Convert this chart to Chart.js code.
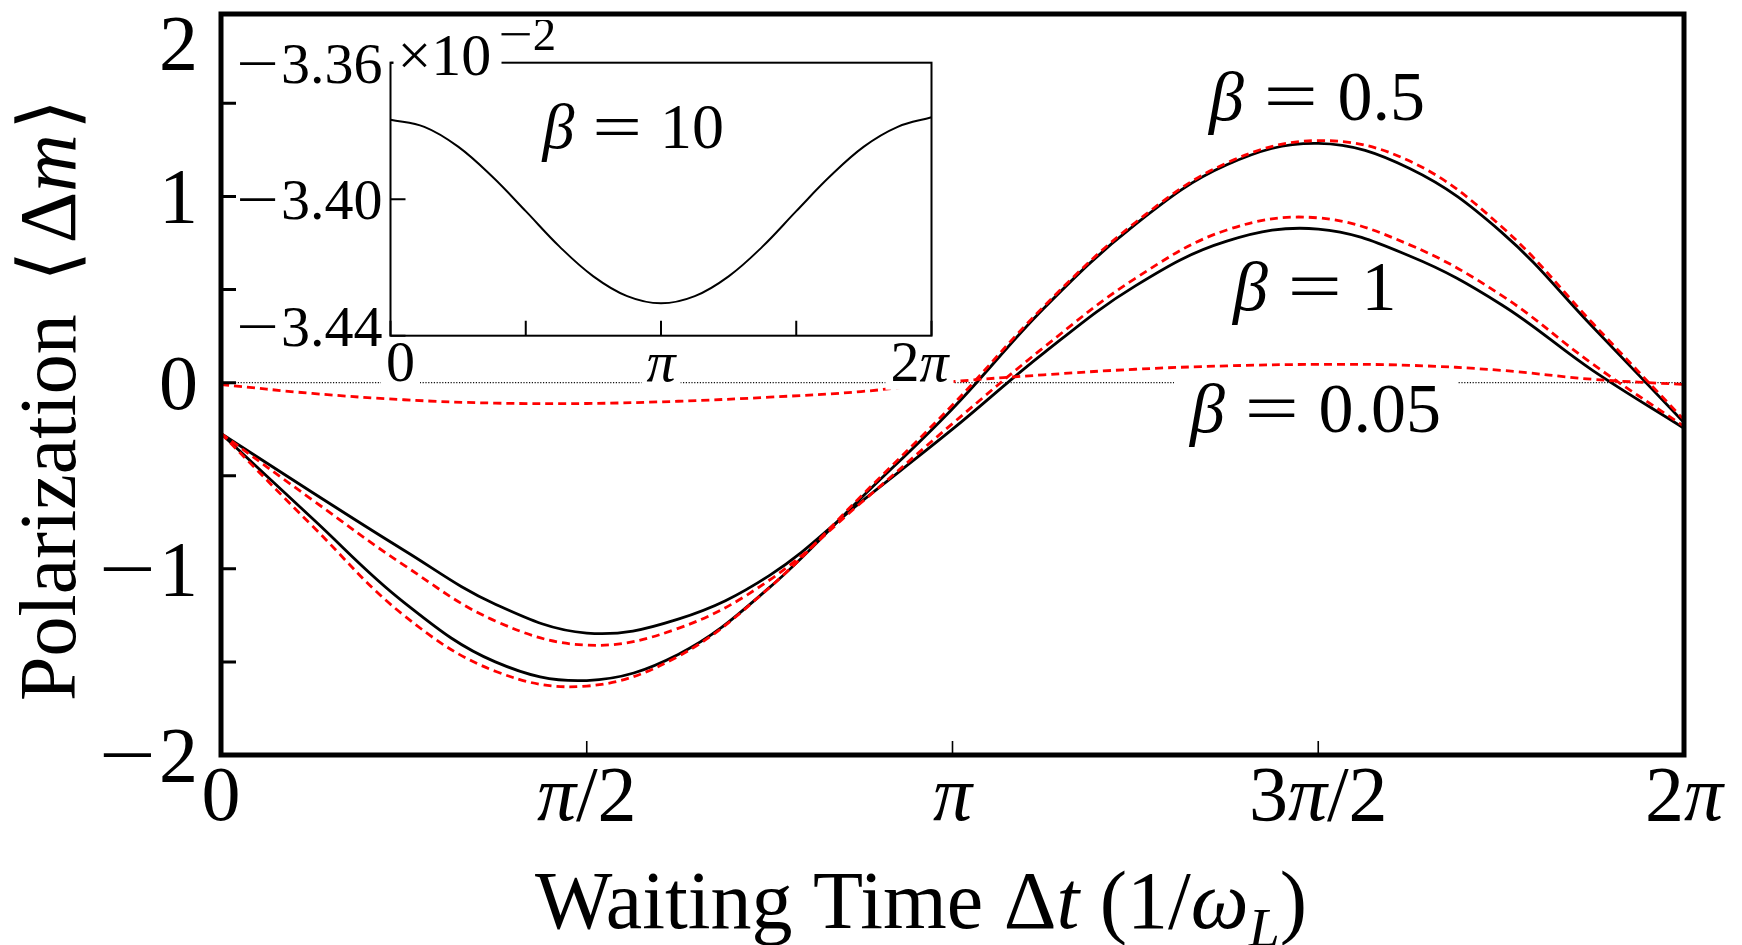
<!DOCTYPE html>
<html>
<head>
<meta charset="utf-8">
<script src="https://cdn.jsdelivr.net/npm/chart.js@4.4.1/dist/chart.umd.min.js"></script>
<style>
  html, body { margin: 0; padding: 0; background: #fff; }
  #wrap { position: relative; width: 1742px; height: 945px; }
  #main { position: absolute; left: 0; top: 0; }
  #inset { position: absolute; left: 230px; top: 20px; }
</style>
</head>
<body>
<div id="wrap">
  <canvas id="main" width="1742" height="945"></canvas>
  <canvas id="inset" width="760" height="390"></canvas>
</div>
<script>
// waiting time, in units of pi
const waitTime = [0, 0.125, 0.25, 0.375, 0.5, 0.625, 0.75, 0.875, 1, 1.125, 1.25, 1.375, 1.5, 1.625, 1.75, 1.875, 2];

// polarization <dm>, full calculation (solid) and approximation (dashed)
const beta05Exact  = [-0.273, -0.73, -1.18, -1.50, -1.60, -1.46, -1.10, -0.62, -0.14, 0.40, 0.85, 1.17, 1.285, 1.15, 0.81, 0.30, -0.214];
const beta05Approx = [-0.273, -0.77, -1.25, -1.55, -1.63, -1.47, -1.10, -0.61, -0.12, 0.41, 0.86, 1.18, 1.30, 1.19, 0.84, 0.32, -0.20];
const beta1Exact   = [-0.273, -0.59, -0.90, -1.19, -1.345, -1.27, -1.035, -0.64, -0.25, 0.16, 0.52, 0.76, 0.825, 0.68, 0.42, 0.066, -0.245];
const beta1Approx  = [-0.273, -0.63, -0.98, -1.28, -1.41, -1.32, -1.06, -0.645, -0.22, 0.19, 0.56, 0.82, 0.885, 0.74, 0.47, 0.10, -0.235];
const beta005Approx = [-0.01, -0.058, -0.092, -0.110, -0.112, -0.100, -0.078, -0.048, 0.005, 0.042, 0.072, 0.090, 0.098, 0.093, 0.066, 0.018, -0.01];

// inset, beta = 10, in units of 1e-2
const beta10Exact = [-3.3767, -3.3788, -3.3846, -3.3933, -3.4035, -3.4139, -3.4226, -3.4284, -3.4305, -3.4284, -3.4226, -3.4139, -3.4035, -3.3933, -3.3846, -3.3788, -3.3760];

// tick positions and labels
const xTickValues = [0, 0.5, 1, 1.5, 2];
const xTickLabels = ['0', 'π/2', 'π', '3π/2', '2π'];
const yTickValues = [-2, -1.5, -1, -0.5, 0, 0.5, 1, 1.5, 2];
const yTickLabels = ['−2', '', '−1', '', '0', '', '1', '', '2'];
const insetXLabels = ['0', '', 'π', '', '2π'];
const insetYValues = [-3.44, -3.40, -3.36];
const insetYLabels = ['−3.44', '−3.40', '−3.36'];

// first serif face the browser really has, else the generic one
function pickSerif() {
  const c = document.createElement('canvas').getContext('2d');
  const probe = 'Waiting Time 0123456789 Polarization';
  const generics = ['monospace', 'sans-serif'];
  const base = {};
  generics.forEach(g => { c.font = '40px ' + g; base[g] = c.measureText(probe).width; });
  const faces = ['Liberation Serif', 'DejaVu Serif', 'Tinos', 'Times New Roman', 'Noto Serif',
    'FreeSerif', 'Nimbus Roman', 'Nimbus Roman No9 L', 'CMU Serif', 'Latin Modern Roman',
    'Georgia', 'Noto Serif CJK SC', 'Noto Serif CJK JP'];
  for (const f of faces) {
    for (const g of generics) {
      c.font = '40px "' + f + '", ' + g;
      if (Math.abs(c.measureText(probe).width - base[g]) > 0.5) return '"' + f + '", serif';
    }
  }
  return 'serif';
}

const SERIF = pickSerif();

function runFont(r, size) {
  return (r.it ? 'italic ' : '') + size + 'px ' + SERIF;
}

// plain label -> runs; letters italic, wide '=' and minus like TeX math
function mathRuns(s) {
  const runs = [];
  for (const ch of s) {
    if (ch === ' ') continue;
    if (ch === '=') runs.push({ t: '=', sx: 1.38, dx: 0.28, after: 0.28 });
    else if (ch === '−') runs.push({ t: '−', sx: 1.3, after: 0.04 });
    else if (/[A-Za-z\u03b1-\u03c9]/.test(ch)) runs.push({ t: ch, it: true });
    else runs.push({ t: ch });
  }
  return runs;
}

function layoutRuns(ctx, runs, size) {
  let w = 0;
  const parts = runs.map(r => {
    const s = (r.sub || r.sup) ? size * (r.k || 0.68) : size;
    ctx.font = runFont(r, s);
    const gap = (r.dx || 0) * size;
    const tw = ctx.measureText(r.t).width * (r.sx || 1);
    const p = { r, s, x: w + gap, w: tw };
    w += gap + tw + (r.after || 0) * size;
    return p;
  });
  return { parts, width: w };
}

function drawRuns(ctx, runs, x, y, size, align) {
  const lay = layoutRuns(ctx, runs, size);
  const x0 = align === 'center' ? x - lay.width / 2 : align === 'right' ? x - lay.width : x;
  ctx.fillStyle = '#000';
  ctx.textAlign = 'left';
  ctx.textBaseline = 'alphabetic';
  for (const p of lay.parts) {
    const r = p.r;
    ctx.font = runFont(r, p.s);
    const yy = y + (r.sub ? 0.22 * size : 0) - (r.sup ? 0.42 * size : 0);
    ctx.save();
    ctx.translate(x0 + p.x, yy);
    ctx.scale(r.sx || 1, 1);
    ctx.fillText(r.t, 0, 0);
    ctx.restore();
  }
  return { left: x0, width: lay.width };
}

function whiteBox(ctx, x, y, w, h) {
  ctx.fillStyle = '#fff';
  ctx.fillRect(x, y, w, h);
}

function pts(vals) {
  return waitTime.map((t, i) => ({ x: t, y: vals[i] }));
}

function curve(vals, dashed, order) {
  return {
    data: pts(vals),
    borderColor: dashed ? '#ff0000' : '#000000',
    borderWidth: 2.8,
    borderDash: dashed ? [8, 5] : [],
    tension: 0.38,
    pointRadius: 0,
    fill: false,
    order: order
  };
}

// axes box, inward ticks and all labels of the main panel
const mainFrame = {
  id: 'mainFrame',
  afterDraw(chart) {
    const { ctx, chartArea: a, scales: { x, y } } = chart;
    ctx.save();
    ctx.strokeStyle = '#000';
    ctx.lineCap = 'butt';

    ctx.lineWidth = 3;
    ctx.beginPath();
    yTickValues.forEach(v => {
      if (v <= -2 || v >= 2) return;
      const py = y.getPixelForValue(v);
      ctx.moveTo(a.left, py);
      ctx.lineTo(a.left + 15, py);
    });
    ctx.stroke();

    ctx.lineWidth = 1.6;
    ctx.beginPath();
    xTickValues.slice(1, -1).forEach(v => {
      const px = x.getPixelForValue(v);
      ctx.moveTo(px, a.bottom);
      ctx.lineTo(px, a.bottom - 14);
    });
    ctx.stroke();

    ctx.lineWidth = 5;
    ctx.strokeRect(a.left, a.top, a.right - a.left, a.bottom - a.top);

    // y tick labels, the top one kept inside the figure
    yTickValues.forEach((v, i) => {
      if (!yTickLabels[i]) return;
      const base = Math.max(y.getPixelForValue(v) + 26, a.top + 55);
      drawRuns(ctx, mathRuns(yTickLabels[i]), 198, base, 78, 'right');
    });

    xTickValues.forEach((v, i) => {
      drawRuns(ctx, mathRuns(xTickLabels[i]), x.getPixelForValue(v), 820, 78, 'center');
    });

    drawRuns(ctx, [
      { t: 'Waiting Time ' }, { t: 'Δ' }, { t: 't', it: true },
      { t: '(1/', dx: 0.25 }, { t: 'ω', it: true }, { t: 'L', it: true, sub: true }, { t: ')' }
    ], 921, 928, 82, 'center');

    ctx.save();
    ctx.translate(75, 400);
    ctx.rotate(-Math.PI / 2);
    drawRuns(ctx, [
      { t: 'Polarization' }, { t: '⟨', dx: 0.4 }, { t: 'Δ', dx: 0.1 },
      { t: 'm', it: true }, { t: '⟩', dx: 0.05 }
    ], 0, 0, 80, 'center');
    ctx.restore();

    drawRuns(ctx, mathRuns('β = 0.5'), 1209, 120, 70, 'left');
    drawRuns(ctx, mathRuns('β = 1'), 1233, 310, 70, 'left');
    whiteBox(ctx, 1174, 376, 284, 70);
    drawRuns(ctx, mathRuns('β = 0.05'), 1190, 432, 70, 'left');
    ctx.restore();
  }
};

// inset panel: white plot area, thin box, its own labels
const insetFrame = {
  id: 'insetFrame',
  beforeDraw(chart) {
    const { ctx, chartArea: a } = chart;
    whiteBox(ctx, a.left, a.top, a.right - a.left, a.bottom - a.top);
  },
  afterDraw(chart) {
    const { ctx, chartArea: a, scales: { x, y } } = chart;
    ctx.save();
    ctx.strokeStyle = '#000';
    ctx.lineWidth = 2;
    ctx.beginPath();
    insetYValues.forEach(v => {
      const py = y.getPixelForValue(v);
      ctx.moveTo(a.left, py);
      ctx.lineTo(a.left + 15, py);
    });
    xTickValues.forEach(v => {
      const px = x.getPixelForValue(v);
      ctx.moveTo(px, a.bottom);
      ctx.lineTo(px, a.bottom - 15);
    });
    ctx.stroke();
    ctx.strokeRect(a.left, a.top, a.right - a.left, a.bottom - a.top);

    insetYValues.forEach((v, i) => {
      const base = Math.min(y.getPixelForValue(v) + 20, a.bottom + 10);
      drawRuns(ctx, mathRuns(insetYLabels[i]), a.left - 8, base, 58, 'right');
    });

    // x labels sit on white boxes, edge ones pulled inside the box
    xTickValues.forEach((v, i) => {
      if (!insetXLabels[i]) return;
      const cx = Math.min(Math.max(x.getPixelForValue(v), a.left + 10), a.right - 12);
      const runs = mathRuns(insetXLabels[i]);
      const w = layoutRuns(ctx, runs, 58).width;
      whiteBox(ctx, cx - w / 2 - 5, a.bottom + 8, w + 10, 46);
      drawRuns(ctx, runs, cx, a.bottom + 45, 58, 'center');
    });

    whiteBox(ctx, a.left + 3, 2, 108, 44);
    drawRuns(ctx, [
      { t: '×' }, { t: '10' },
      { t: '−', sup: true, k: 0.78, sx: 1.3, dx: 0.12 }, { t: '2', sup: true, k: 0.78 }
    ], a.left + 7, 55, 60, 'left');

    drawRuns(ctx, mathRuns('β = 10'), a.left + 152, 128, 64, 'left');
    ctx.restore();
  }
};

new Chart(document.getElementById('main'), {
  type: 'line',
  data: {
    datasets: [
      curve(beta005Approx, true, 1),
      curve(beta05Approx, true, 1),
      curve(beta1Approx, true, 1),
      curve(beta05Exact, false, 2),
      curve(beta1Exact, false, 2),
      {
        data: [{ x: 0, y: 0 }, { x: 2, y: 0 }],
        borderColor: '#111',
        borderWidth: 1.2,
        borderDash: [1.2, 1.6],
        pointRadius: 0,
        order: 3
      }
    ]
  },
  options: {
    responsive: false,
    animation: false,
    events: [],
    layout: { padding: { left: 221, top: 14, right: 58, bottom: 190 } },
    plugins: { legend: { display: false }, tooltip: { enabled: false } },
    scales: {
      x: { type: 'linear', min: 0, max: 2, display: false },
      y: { type: 'linear', min: -2, max: 1.98, display: false }
    }
  },
  plugins: [mainFrame]
});

new Chart(document.getElementById('inset'), {
  type: 'line',
  data: {
    datasets: [{
      data: waitTime.map((t, i) => ({ x: t, y: beta10Exact[i] })),
      borderColor: '#000',
      borderWidth: 2,
      tension: 0.38,
      pointRadius: 0,
      fill: false
    }]
  },
  options: {
    responsive: false,
    animation: false,
    events: [],
    layout: { padding: { left: 160.5, top: 42.7, right: 58.5, bottom: 74.3 } },
    plugins: { legend: { display: false }, tooltip: { enabled: false } },
    scales: {
      x: { type: 'linear', min: 0, max: 2, display: false },
      y: { type: 'linear', min: -3.44, max: -3.36, display: false }
    }
  },
  plugins: [insetFrame]
});
</script>
</body>
</html>
